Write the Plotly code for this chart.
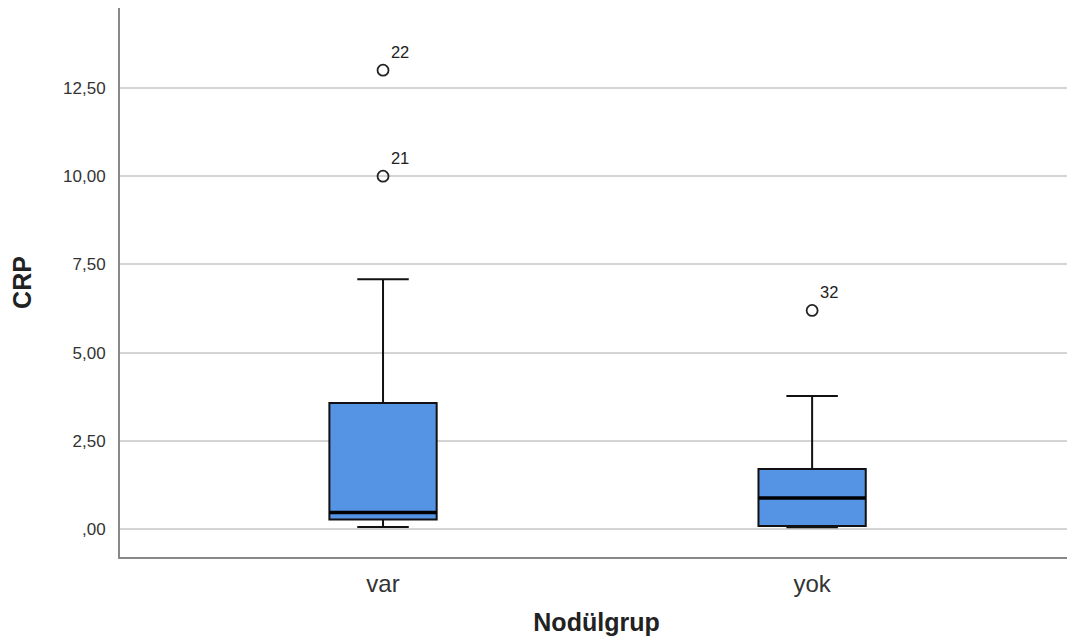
import plotly.graph_objects as go

categories = ["var", "yok"]
q1 = [0.28, 0.10]
median = [0.48, 0.89]
q3 = [3.58, 1.71]
lower_whisker = [0.07, 0.06]
upper_whisker = [7.08, 3.78]

outlier_group = [0, 0, 1]
outlier_values = [13.0, 10.0, 6.2]
outlier_labels = ["22", "21", "32"]

y_tickvals = [0, 2.5, 5, 7.5, 10, 12.5]
y_ticktext = [",00", "2,50", "5,00", "7,50", "10,00", "12,50"]

box_width = 0.25
fill = "#5594E4"
font_family = "Arial, Liberation Sans, sans-serif"

fig = go.Figure()
for i, cat in enumerate(categories):
    fig.add_trace(go.Box(
        x=[i], q1=[q1[i]], median=[median[i]], q3=[q3[i]],
        lowerfence=[lower_whisker[i]], upperfence=[upper_whisker[i]],
        width=box_width, whiskerwidth=0.48, boxpoints=False,
        fillcolor=fill, line=dict(color="#111111", width=2),
        name=cat, showlegend=False, hoverinfo="skip",
    ))
    fig.add_trace(go.Scatter(
        x=[i - box_width / 2, i + box_width / 2], y=[median[i], median[i]],
        mode="lines", line=dict(color="#000000", width=3.5),
        showlegend=False, hoverinfo="skip",
    ))

fig.add_trace(go.Scatter(
    x=outlier_group, y=outlier_values, mode="markers+text",
    text=outlier_labels, textposition="top right",
    textfont=dict(family=font_family, size=16.5, color="#222222"),
    marker=dict(symbol="circle-open", size=11, color="#222222", line=dict(width=1.8)),
    showlegend=False, hoverinfo="skip",
))

fig.update_layout(
    width=1067, height=633,
    margin=dict(l=112, r=2, t=0, b=84),
    plot_bgcolor="white", paper_bgcolor="white",
    font=dict(family=font_family, color="#333333"),
    xaxis=dict(
        range=[-0.613, 1.608], tickvals=list(range(len(categories))), ticktext=categories,
        showgrid=False, zeroline=False, showline=True, linecolor="#888888", linewidth=2,
        ticks="", tickfont=dict(size=24, color="#333333"), ticklabelstandoff=4,
        title=dict(text="<b>Nodülgrup</b>", font=dict(size=25, color="#222222"), standoff=18),
    ),
    yaxis=dict(
        range=[-0.78, 14.76], tickvals=y_tickvals, ticktext=y_ticktext,
        showgrid=True, gridcolor="#d4d4d4", gridwidth=1.5, zeroline=False,
        showline=True, linecolor="#888888", linewidth=2, ticks="",
        tickfont=dict(size=17, color="#333333"), ticklabelstandoff=9,
        title=dict(text="<b>CRP</b>", font=dict(size=25, color="#222222"), standoff=26),
    ),
)

fig.write_html("out.html")
